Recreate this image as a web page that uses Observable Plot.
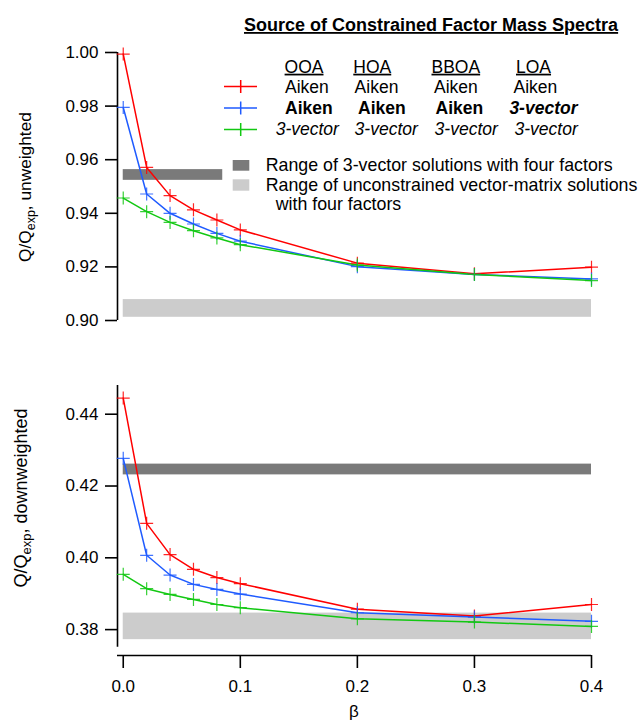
<!DOCTYPE html>
<html>
<head>
<meta charset="utf-8">
<script src="https://cdn.jsdelivr.net/npm/d3@7"></script>
<script src="https://cdn.jsdelivr.net/npm/@observablehq/plot@0.6"></script>
<style>
  html, body { margin: 0; padding: 0; background: #fff; }
  #wrap { position: relative; width: 638px; height: 721px; overflow: hidden; font-family: "Liberation Sans", Arial, sans-serif; }
  #wrap > * { position: absolute; left: 0; }
  #overlay { top: 0; pointer-events: none; }
  #overlay text { font-family: "Liberation Sans", Arial, sans-serif; fill: #000; }
</style>
</head>
<body>
<div id="wrap"></div>
<script>
// ---------- data ----------
const beta = [0, 0.02, 0.04, 0.06, 0.08, 0.1, 0.2, 0.3, 0.4];
const seriesNames = ["Aiken / Aiken / Aiken / Aiken", "Aiken / Aiken / Aiken / 3-vector", "3-vector / 3-vector / 3-vector / 3-vector"];
const seriesColors = ["#ff0000", "#1f5bff", "#12c812"];

const topRed   = [0.9994, 0.9571, 0.9466, 0.9413, 0.9375, 0.9338, 0.9214, 0.9174, 0.9199];
const topBlue  = [0.9795, 0.9472, 0.9400, 0.9360, 0.9325, 0.9296, 0.9201, 0.9172, 0.9155];
const topGreen = [0.9457, 0.9406, 0.9366, 0.9335, 0.9308, 0.9283, 0.9207, 0.9172, 0.9149];

const botRed   = [0.4445, 0.4096, 0.4009, 0.3968, 0.3945, 0.3928, 0.3857, 0.3838, 0.3870];
const botBlue  = [0.4277, 0.4007, 0.3952, 0.3926, 0.3912, 0.3899, 0.3847, 0.3835, 0.3823];
const botGreen = [0.3954, 0.3914, 0.3898, 0.3884, 0.3870, 0.3861, 0.3830, 0.3821, 0.3809];

// shaded ranges: [beta start, beta end], [Q low, Q high]
const topVecBeta = [0, 0.085],   topVecRange = [0.9523, 0.9563];
const topUncBeta = [0, 0.4],     topUncRange = [0.9012, 0.9078];
const botVecBeta = [0, 0.4],     botVecRange = [0.4231, 0.4261];
const botUncBeta = [0, 0.4],     botUncRange = [0.3772, 0.3846];

const topTicks = [0.90, 0.92, 0.94, 0.96, 0.98, 1.00];
const botTicks = [0.38, 0.40, 0.42, 0.44];
const xTicks = [0.0, 0.1, 0.2, 0.3, 0.4];

const xDomain = [-0.0049, 0.4];
const topDomain = [0.90, 1.00];
const botDomain = [0.3751, 0.448];

const darkGrey = "#7a7a7a", lightGrey = "#cccccc";

// ---------- helpers ----------
const cross = {
  draw(ctx, size) {
    const r = Math.sqrt(size / Math.PI);
    ctx.moveTo(-r, 0); ctx.lineTo(r, 0);
    ctx.moveTo(0, -r); ctx.lineTo(0, r);
  }
};
function rows(vals) { return beta.map((b, i) => ({beta: b, value: vals[i]})); }
function seriesMarks(list) {
  const data = list.map(rows);
  const lines = data.map((d, i) => Plot.line(d, {x: "beta", y: "value", stroke: seriesColors[i], strokeWidth: 1.5}));
  const dots = data.map((d, i) => Plot.dot(d, {x: "beta", y: "value", stroke: seriesColors[i], fill: "none", symbol: cross, r: 6.5, strokeWidth: 1.2, strokeOpacity: 0.85}));
  return [...lines, ...dots];
}
function band(b, r, fill) {
  return Plot.rect([{x1: b[0], x2: b[1], y1: r[0], y2: r[1]}], {x1: "x1", x2: "x2", y1: "y1", y2: "y2", fill});
}
const style = {fontSize: "17px", fontFamily: "'Liberation Sans', Arial, sans-serif", color: "#000", background: "transparent", overflow: "visible"};

// ---------- top panel ----------
const topPlot = Plot.plot({
  width: 638, height: 340,
  marginTop: 52, marginBottom: 20, marginLeft: 117, marginRight: 47,
  x: {domain: xDomain, axis: null},
  y: {domain: topDomain, label: null},
  style,
  marks: [
    band(topUncBeta, topUncRange, lightGrey),
    band(topVecBeta, topVecRange, darkGrey),
    Plot.ruleX([xDomain[0]], {strokeWidth: 1.6}),
    Plot.axisY({ticks: topTicks, tickSize: 12, tickPadding: 7, tickFormat: d3.format(".2f"), strokeWidth: 1.6, label: null}),
    ...seriesMarks([topRed, topBlue, topGreen])
  ]
});
topPlot.style.top = "0px";

// ---------- bottom panel ----------
const botPlot = Plot.plot({
  width: 638, height: 381,
  marginTop: 45, marginBottom: 74.3, marginLeft: 117, marginRight: 47,
  x: {domain: xDomain, label: null},
  y: {domain: botDomain, label: null},
  style,
  marks: [
    band(botUncBeta, botUncRange, lightGrey),
    band(botVecBeta, botVecRange, darkGrey),
    Plot.ruleX([xDomain[0]], {strokeWidth: 1.6}),
    Plot.ruleY([botDomain[0]], {dy: 8.3, strokeWidth: 1.6}),
    Plot.axisY({ticks: botTicks, tickSize: 12, tickPadding: 7, tickFormat: d3.format(".2f"), strokeWidth: 1.6, label: null}),
    Plot.axisX({ticks: xTicks, tickSize: 13, tickPadding: 11, dy: 8.3, tickFormat: d3.format(".1f"), strokeWidth: 1.6, label: null}),
    ...seriesMarks([botRed, botBlue, botGreen])
  ]
});
botPlot.style.top = "340px";

const wrap = document.getElementById("wrap");
wrap.appendChild(topPlot);
wrap.appendChild(botPlot);

// ---------- text overlay (title, legend, axis titles) ----------
const headers = ["OOA", "HOA", "BBOA", "LOA"];
const legendRows = [
  ["Aiken", "Aiken", "Aiken", "Aiken"],
  ["Aiken", "Aiken", "Aiken", "3-vector"],
  ["3-vector", "3-vector", "3-vector", "3-vector"]
];
const rowStyles = [
  [["normal","normal"],["normal","normal"],["normal","normal"],["normal","normal"]],
  [["bold","normal"],["bold","normal"],["bold","normal"],["bold","italic"]],
  [["normal","italic"],["normal","italic"],["normal","italic"],["normal","italic"]]
];
const headerX = [284.6, 353.3, 431.5, 516];
const rowX = [[285, 354.6, 434, 513.5], [285, 358, 435.6, 509.4], [275.7, 354.6, 434.6, 514.5]];
const rowY = [93.3, 114, 134.5];
const sampleY = [86.5, 108, 129.4];
const bandLabels = ["Range of 3-vector solutions with four factors", "Range of unconstrained vector-matrix solutions", "with four factors"];

const NS = "http://www.w3.org/2000/svg";
const ov = document.createElementNS(NS, "svg");
ov.setAttribute("id", "overlay");
ov.setAttribute("width", 638); ov.setAttribute("height", 721);
function t(str, x, y, opts = {}) {
  const e = document.createElementNS(NS, "text");
  e.setAttribute("x", x); e.setAttribute("y", y);
  e.setAttribute("font-size", opts.size || 17.5);
  if (opts.weight) e.setAttribute("font-weight", opts.weight);
  if (opts.italic) e.setAttribute("font-style", opts.italic);
  if (opts.anchor) e.setAttribute("text-anchor", opts.anchor);
  if (opts.underline) e.setAttribute("text-decoration", "underline");
  if (opts.transform) e.setAttribute("transform", opts.transform);
  e.textContent = str;
  ov.appendChild(e);
  return e;
}
t("Source of Constrained Factor Mass Spectra", 244, 31, {size: 18, weight: "bold", underline: true});
headers.forEach((h, i) => t(h, headerX[i], 72.7, {underline: true}));
legendRows.forEach((r, j) => r.forEach((s, i) => t(s, rowX[j][i], rowY[j], {weight: rowStyles[j][i][0], italic: rowStyles[j][i][1]})));
seriesColors.forEach((c, j) => {
  const l = document.createElementNS(NS, "path");
  const y = sampleY[j];
  l.setAttribute("d", `M224,${y}H257M234.2,${y}H247.2M240.7,${y - 6.5}V${y + 6.5}`);
  l.setAttribute("stroke", c); l.setAttribute("stroke-width", 1.5); l.setAttribute("fill", "none");
  ov.appendChild(l);
});
[[160, 170.7, darkGrey], [179.3, 190.7, lightGrey]].forEach(([y0, y1, c]) => {
  const r = document.createElementNS(NS, "rect");
  r.setAttribute("x", 232.7); r.setAttribute("y", y0); r.setAttribute("width", 16.6); r.setAttribute("height", y1 - y0);
  r.setAttribute("fill", c);
  ov.appendChild(r);
});
t(bandLabels[0], 265.7, 170.7, {size: 17.8});
t(bandLabels[1], 265.7, 190.7, {size: 17.8});
t(bandLabels[2], 275.7, 210, {size: 17.8});

function yTitle(word, cx, cy, size) {
  const e = t("", cx, cy, {size, anchor: "middle", transform: `rotate(-90 ${cx} ${cy})`});
  const parts = [["Q/Q", null], ["exp", "sub"], [", " + word, null]];
  parts.forEach(([s, k]) => {
    const ts = document.createElementNS(NS, "tspan");
    ts.textContent = s;
    if (k === "sub") { ts.setAttribute("font-size", size * 0.72); ts.setAttribute("dy", 4); }
    else if (s.startsWith(",")) ts.setAttribute("dy", -4);
    e.appendChild(ts);
  });
}
yTitle("unweighted", 31, 187, 17.3);
yTitle("downweighted", 27, 498, 18);
t("β", 354, 717, {size: 17, anchor: "middle"});

wrap.appendChild(ov);
</script>
</body>
</html>
